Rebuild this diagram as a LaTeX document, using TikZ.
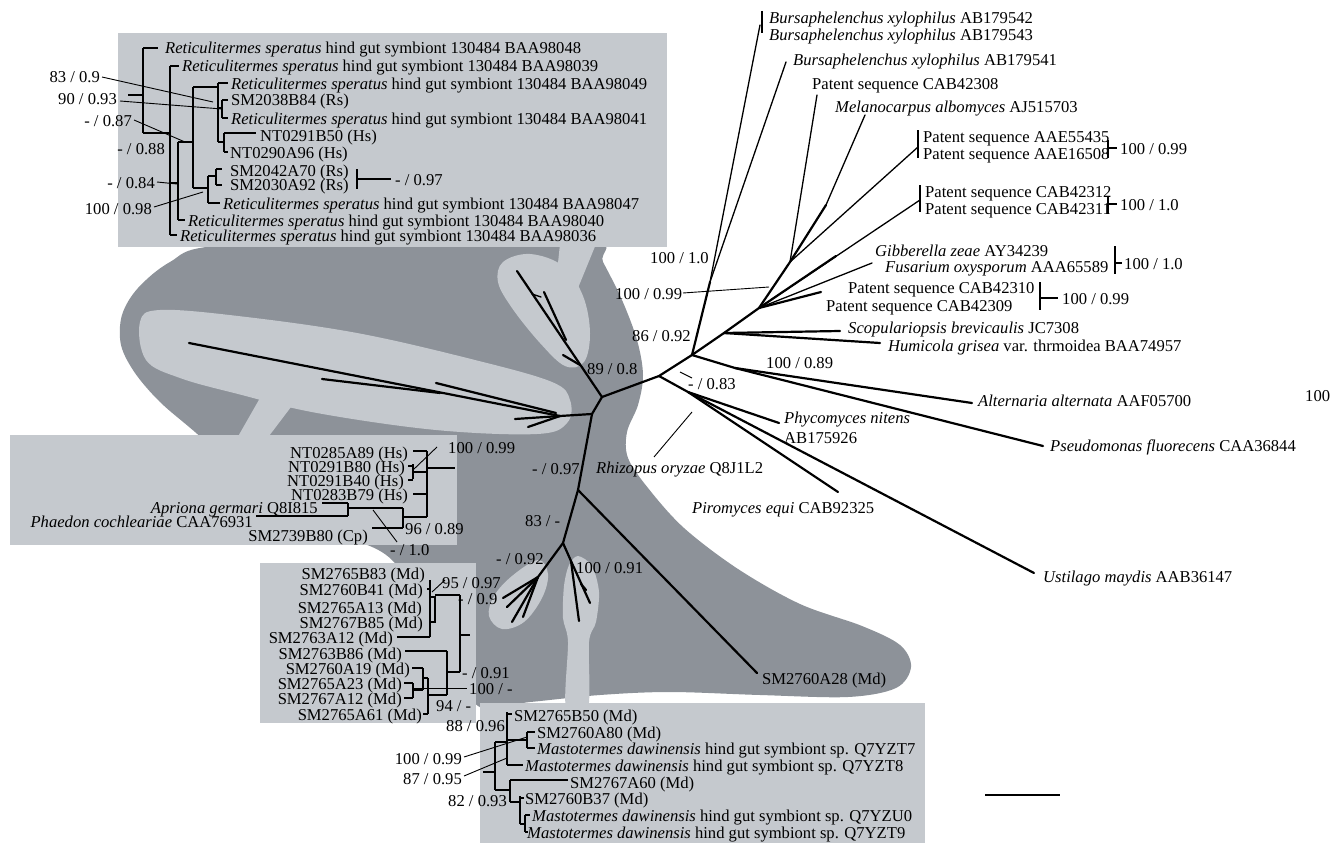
\documentclass[tikz,border=0pt]{standalone}
\usepackage{fontspec}
\setmainfont{Liberation Serif}
\definecolor{dk}{RGB}{141,146,153}
\definecolor{lt}{RGB}{197,201,206}
\newcommand{\RsT}{\textit{Reticulitermes speratus} hind gut symbiont 130484 BAA}
\newcommand{\MdT}{\textit{Mastotermes dawinensis} hind gut symbiont sp. Q7Y}
\newcommand{\BxT}{\textit{Bursaphelenchus xylophilus} AB1795}
\begin{document}
\begin{tikzpicture}[x=1pt,y=-1pt,
  every node/.style={inner sep=0pt, font=\fontsize{16.6}{18}\selectfont},
  L/.style={anchor=base west},
  R/.style={anchor=base east},
  br/.style={line width=2.2pt, line cap=round},
  bt/.style={line width=1.3pt, line cap=round},
  cl/.style={line width=1.4pt},
  pt/.style={line width=0.9pt}]
\useasboundingbox (0,0) rectangle (1339,843);
\fill[white] (0,0) rectangle (1339,843);
% ---------- shaded regions ----------
\fill[dk] plot[smooth cycle, tension=0.55] coordinates {(215,246) (400,240) (590,240) (603,262) (622,300) (637,340) (643,375) (638,405) (627,432) (628,458) (648,488) (684,528) (738,569) (800,604) (862,626) (900,645) (911,667) (896,688) (848,697) (760,695) (670,692) (600,695) (530,702) (478,706) (440,640) (392,560) (330,530) (250,480) (195,432) (160,402) (135,373) (121,345) (122,315) (138,288) (170,262)};
\fill[lt] plot[smooth cycle, tension=0.6] coordinates {(140,322) (160,310) (238,316) (357,333) (475,360) (552,382) (570,400) (567,423) (537,434) (436,430) (317,413) (238,394) (180,378) (146,360)};
\fill[lt] plot[smooth cycle, tension=0.6] coordinates {(503,262) (530,254) (563,266) (583,296) (590,333) (584,362) (565,366) (540,343) (512,308) (498,282)};
\fill[lt] plot[smooth cycle, tension=0.6] coordinates {(538,560) (548,574) (542,598) (524,622) (502,629) (489,616) (494,596) (512,576)};
\fill[lt] plot[smooth cycle, tension=0.5] coordinates {(578,556) (592,566) (599,592) (596,622) (589,642) (588,708) (566,708) (568,642) (563,618) (564,586) (569,565)};
\fill[lt] (560,244) -- (596,244) -- (578,288) -- (556,282) -- cycle;
\fill[lt] (260,398) -- (294,403) -- (266,440) -- (236,440) -- cycle;
% boxes
\fill[lt] (118,33) rectangle (667,247);
\fill[lt] (10,435) rectangle (457,545);
\fill[lt] (260,563) rectangle (476,723);
\fill[lt] (480,703) rectangle (925,843);
% ---------- central unrooted tree ----------
\coordinate (B) at (592,414);
\coordinate (A) at (602,397);
\coordinate (C) at (659,376);
\coordinate (D) at (692,355);
\coordinate (E) at (578,490);
\coordinate (F) at (563,543);
\coordinate (LB) at (560,416);
\coordinate (N1) at (710,282);
\coordinate (N2) at (759,308);
\coordinate (N3) at (790,262);
\coordinate (N5) at (724,333);
\coordinate (N6) at (735,368);
\coordinate (M1) at (826,205);
\coordinate (C2) at (688,392);
\coordinate (G1) at (538,577);
\coordinate (G2) at (571,561);
\draw[br] (B) -- (A) -- (C) -- (D);
\draw[br] (A) -- (517,271);
\draw[br] (544,292) -- (566,340);
\draw[br] (580,365) -- (563,355);
\draw[bt] (532,294) -- (541,297);
\draw[br] (189,343) -- (LB) -- (B);
\draw[br] (322,379) -- (440,393);
\draw[br] (436,383) -- (556,413);
\draw[br] (515,419) -- (LB);
\draw[br] (528,427) -- (LB);
\draw[br] (B) -- (E) -- (F);
\draw[br] (E) -- (757,673);
\draw[br] (F) -- (G1) -- (503,598);
\draw[br] (G1) -- (507,607);
\draw[br] (G1) -- (512,622);
\draw[br] (G1) -- (523,617);
\draw[br] (F) -- (G2) -- (579,621);
\draw[br] (G2) -- (590,603);
\draw[br] (581,584) -- (586,590);
% fungal part
\draw[br] (D) -- (N1);
\draw[bt] (N1) -- (760,25);
\draw[bt] (N1) -- (786,62);
\draw[br] (D) -- (N5) -- (N2) -- (N3);
\draw[bt] (N3) -- (817,95);
\draw[br] (N3) -- (M1);
\draw[bt] (M1) -- (865,115);
\draw[bt] (N3) -- (918,147);
\draw[bt] (N2) -- (920,200);
\draw[br] (N2) -- (836,256);
\draw[bt] (N2) -- (872,263);
\draw[br] (N2) -- (821,292);
\draw[br] (N5) -- (840,331);
\draw[br] (N5) -- (880,343);
\draw[br] (D) -- (N6) -- (972,403);
\draw[br] (N6) -- (1043,446);
\draw[br] (C) -- (C2) -- (779,423);
\draw[br] (C2) -- (838,492);
\draw[br] (C2) -- (1034,573);
\draw[pt] (680,372) -- (692,378);
\draw[pt] (654,457) -- (692,412);
\draw[pt] (683,293) -- (769,287);
% brackets right
\draw[cl] (762,11) -- (762,33);
\draw[cl] (918,130) -- (918,158);
\draw[cl] (920,185) -- (920,212);
\draw[cl] (1108,140) -- (1108,158) (1108,148) -- (1117,148);
\draw[cl] (1108,196) -- (1108,214) (1108,204) -- (1117,204);
\draw[cl] (1115,246) -- (1115,274) (1115,263) -- (1122,263);
\draw[cl] (1040,282) -- (1040,310) (1040,298) -- (1058,298);
% scale bar
\draw[line width=2pt] (985,795) -- (1060,795);
% ---------- fungal labels ----------
\node[L] (f1) at (769,24) {\BxT 42};
\node[L] (f2) at (769,41) {\BxT 43};
\node[L] (f3) at (793,66) {\BxT 41};
\node[L] (f4) at (812,89) {Patent sequence CAB42308};
\node[L] (f5) at (835,113) {\textit{Melanocarpus albomyces} AJ515703};
\node[L] (f6) at (923,142) {Patent sequence AAE55435};
\node[L] (f7) at (923,159) {Patent sequence AAE16508};
\node[L] (f8) at (1120,154) {100 / 0.99};
\node[L] (f9) at (925,197) {Patent sequence CAB42312};
\node[L] (f10) at (925,214) {Patent sequence CAB42311};
\node[L] (f11) at (1120,210) {100 / 1.0};
\node[L] (f12) at (875,256) {\textit{Gibberella zeae} AY34239};
\node[L] (f13) at (885,272) {\textit{Fusarium oxysporum} AAA65589};
\node[L] (f14) at (1124,269) {100 / 1.0};
\node[L] (f15) at (848,293) {Patent sequence CAB42310};
\node[L] (f16) at (826,311) {Patent sequence CAB42309};
\node[L] (f17) at (1062,304) {100 / 0.99};
\node[L] (f18) at (848,333) {\textit{Scopulariopsis brevicaulis} JC7308};
\node[L] (f19) at (888,351) {\textit{Humicola grisea} var. thrmoidea BAA74957};
\node[L] (f20) at (766,368) {100 / 0.89};
\node[L] (f21) at (688,389) {- / 0.83};
\node[L] (f22) at (978,406) {\textit{Alternaria alternata} AAF05700};
\node[L] (f23) at (1305,401) {100};
\node[L] (f24) at (1050,451) {\textit{Pseudomonas fluorecens} CAA36844};
\node[L] (f25) at (784,423) {\textit{Phycomyces nitens}};
\node[L] (f26) at (784,443) {AB175926};
\node[L] (f27) at (596,473) {\textit{Rhizopus oryzae} Q8J1L2};
\node[L] (f28) at (692,513) {\textit{Piromyces equi} CAB92325};
\node[L] (f29) at (1043,582) {\textit{Ustilago maydis} AAB36147};
\node[L] (f30) at (762,684) {SM2760A28 (Md)};
% central support labels
\node[L] (s1) at (650,263) {100 / 1.0};
\node[L] (s2) at (615,299) {100 / 0.99};
\node[L] (s3) at (632,341) {86 / 0.92};
\node[L] (s4) at (587,374) {89 / 0.8};
\node[L] (s5) at (532,474) {- / 0.97};
\node[L] (s6) at (525,526) {83 / -};
\node[L] (s7) at (496,564) {- / 0.92};
\node[L] (s8) at (576,573) {100 / 0.91};
% ---------- top box ----------
\node[L] (t1) at (165,54) {\RsT 98048};
\node[L] (t2) at (182,72) {\RsT 98039};
\node[L] (t3) at (231,89) {\RsT 98049};
\node[L] (t4) at (231,106) {SM2038B84 (Rs)};
\node[L] (t5) at (231,124) {\RsT 98041};
\node[L] (t6) at (260,141) {NT0291B50 (Hs)};
\node[L] (t7) at (230,158) {NT0290A96 (Hs)};
\node[L] (t8) at (230,176) {SM2042A70 (Rs)};
\node[L] (t9) at (230,190) {SM2030A92 (Rs)};
\node[L] (t10) at (223,209) {\RsT 98047};
\node[L] (t11) at (188,226) {\RsT 98040};
\node[L] (t12) at (180,241) {\RsT 98036};
\node[R] (u1) at (100,83) {83 / 0.9};
\node[R] (u2) at (117,104) {90 / 0.93};
\node[R] (u3) at (132,126) {- / 0.87};
\node[R] (u4) at (165,154) {- / 0.88};
\node[R] (u5) at (155,188) {- / 0.84};
\node[R] (u6) at (152,214) {100 / 0.98};
\node[L] (u7) at (395,185) {- / 0.97};
\draw[cl] (143,48) -- (143,133) (143,48) -- (158,48) (128,95) -- (143,95) (143,133) -- (170,133);
\draw[cl] (170,66) -- (170,235) (170,66) -- (179,66) (170,235) -- (177,235) (170,183) -- (178,183);
\draw[cl] (178,142) -- (178,220) (178,220) -- (185,220) (178,142) -- (193,142);
\draw[cl] (193,87) -- (193,188) (193,87) -- (218,87);
\draw[cl] (218,83) -- (218,142) (218,83) -- (228,83) (218,108) -- (222,108) (222,100) -- (222,118) (222,100) -- (228,100) (222,118) -- (228,118);
\draw[cl] (218,142) -- (224,142) (224,133) -- (224,152) (224,133) -- (256,133) (224,152) -- (228,152);
\draw[cl] (193,188) -- (208,188) (208,176) -- (208,203) (208,176) -- (216,176) (216,169) -- (216,185) (216,169) -- (222,169) (216,185) -- (222,185) (208,203) -- (220,203);
\draw[pt] (102,77) -- (213,102);
\draw[pt] (120,101) -- (222,109);
\draw[pt] (134,120) -- (185,142);
\draw[pt] (157,182) -- (177,184);
\draw[pt] (154,207) -- (203,192);
\draw[cl] (357,169) -- (357,189) (357,179) -- (391,179);
% ---------- middle-left box ----------
\node[R] (m1) at (408,458) {NT0285A89 (Hs)};
\node[R] (m2) at (405,472) {NT0291B80 (Hs)};
\node[R] (m3) at (404,486) {NT0291B40 (Hs)};
\node[R] (m4) at (408,500) {NT0283B79 (Hs)};
\node[R] (m5) at (318,513) {\textit{Apriona germari} Q8I815};
\node[R] (m6) at (253,527) {\textit{Phaedon cochleariae} CAA76931};
\node[R] (m7) at (368,541) {SM2739B80 (Cp)};
\node[L] (m8) at (405,534) {96 / 0.89};
\node[L] (m9) at (448,453) {100 / 0.99};
\node[L] (m10) at (390,555) {- / 1.0};
\draw[cl] (413,464) -- (413,479) (408,466) -- (413,466) (408,480) -- (413,480);
\draw[cl] (427,451) -- (427,517) (413,451) -- (427,451) (413,472) -- (427,472) (413,494) -- (427,494) (403,517) -- (427,517) (427,468) -- (455,468);
\draw[cl] (403,508) -- (403,528) (348,508) -- (403,508) (372,528) -- (403,528);
\draw[cl] (348,503) -- (348,516) (322,503) -- (348,503) (256,516) -- (348,516);
\draw[pt] (437,447) -- (413,470);
\draw[pt] (373,510) -- (397,542);
% ---------- bottom-left box ----------
\node[R] (b1) at (425,579) {SM2765B83 (Md)};
\node[R] (b2) at (423,595) {SM2760B41 (Md)};
\node[R] (b3) at (422,613) {SM2765A13 (Md)};
\node[R] (b4) at (423,628) {SM2767B85 (Md)};
\node[R] (b5) at (393,643) {SM2763A12 (Md)};
\node[R] (b6) at (402,659) {SM2763B86 (Md)};
\node[R] (b7) at (410,674) {SM2760A19 (Md)};
\node[R] (b8) at (402,689) {SM2765A23 (Md)};
\node[R] (b9) at (402,704) {SM2767A12 (Md)};
\node[R] (b10) at (422,720) {SM2765A61 (Md)};
\node[L] (b11) at (442,588) {95 / 0.97};
\node[L] (b12) at (458,604) {- / 0.9};
\node[L] (b13) at (462,678) {- / 0.91};
\node[L] (b14) at (469,694) {100 / -};
\node[L] (b15) at (436,711) {94 / -};
\draw[pt] (445,580) -- (432,592);
\draw[cl] (427,589) -- (430,589) (430,580) -- (430,637) (430,597) rectangle (435,622) (435,595) -- (460,595) (397,637) -- (430,637);
\draw[cl] (460,595) -- (460,672) (460,635) -- (470,635) (405,651) -- (447,651) (447,651) -- (447,695) (447,672) -- (460,672);
\draw[cl] (412,668) -- (423,668) (423,668) -- (423,690) (423,678) -- (428,678) (413,683) -- (413,698) (404,683) -- (413,683) (404,698) -- (413,698) (413,690) -- (423,690);
\draw[cl] (428,678) -- (428,714) (423,714) -- (428,714) (428,695) -- (447,695);
\draw[pt] (413,688) -- (467,688);
% ---------- bottom box ----------
\node[L] (d1) at (514,721) {SM2765B50 (Md)};
\node[L] (d2) at (537,738) {SM2760A80 (Md)};
\node[L] (d3) at (537,754) {\MdT ZT7};
\node[L] (d4) at (525,771) {\MdT ZT8};
\node[L] (d5) at (570,788) {SM2767A60 (Md)};
\node[L] (d6) at (525,804) {SM2760B37 (Md)};
\node[L] (d7) at (532,821) {\MdT ZU0};
\node[L] (d8) at (527,838) {\MdT ZT9};
\node[R] (d9) at (505,731) {88 / 0.96};
\node[R] (d10) at (462,764) {100 / 0.99};
\node[R] (d11) at (462,784) {87 / 0.95};
\node[R] (d12) at (507,806) {82 / 0.93};
\draw[cl] (495,742) -- (495,790) (483,772) -- (495,772) (495,742) -- (507,742);
\draw[cl] (507,712) -- (507,765) (507,714) -- (512,714) (507,765) -- (523,765) (507,740) -- (527,740);
\draw[cl] (527,732) -- (527,748) (527,732) -- (535,732) (527,748) -- (535,748);
\draw[cl] (495,790) -- (510,790) (510,780) -- (510,802) (510,780) -- (568,780) (510,802) -- (520,802);
\draw[cl] (520,796) -- (520,824) (520,798) -- (524,798) (520,824) -- (525,824);
\draw[cl] (525,815) -- (525,832) (525,815) -- (530,815) (525,832) -- (528,832);
\draw[pt] (464,757) -- (527,737);
\draw[pt] (464,776) -- (507,758);
\end{tikzpicture}
\end{document}
